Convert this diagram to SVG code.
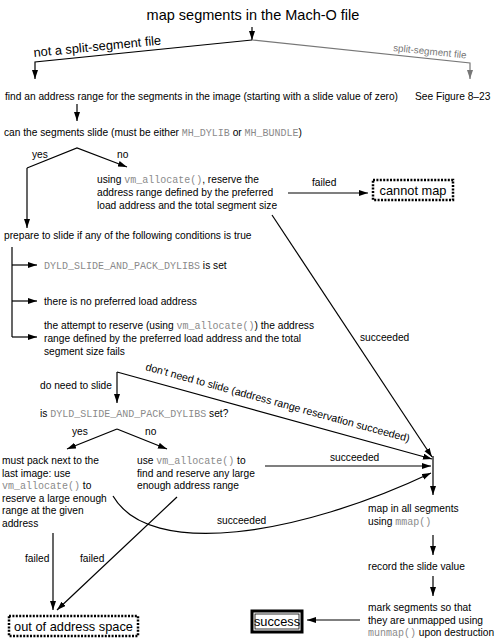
<svg xmlns="http://www.w3.org/2000/svg" width="500" height="643" viewBox="0 0 500 643">
<style>
text{font-family:"Liberation Sans",Arial,sans-serif;font-size:10.2px;fill:#000}
.code{font-family:"Liberation Mono","Courier New",monospace;fill:#8a8a8a;font-size:10px}
.title{font-size:14.5px}
.big{font-size:12.8px}
.gray{fill:#777}
.ln{fill:none;stroke:#000;stroke-width:1.2}
.gln{fill:none;stroke:#777;stroke-width:1.2}
.dot{fill:#fff;stroke:#000;stroke-width:2.5;stroke-dasharray:2 1.4}
</style>
<defs>
<marker id="a" markerUnits="userSpaceOnUse" markerWidth="10" markerHeight="7" refX="9" refY="3" orient="auto"><path d="M0,0 L9,3 L0,6 z" fill="#000"/></marker>
<marker id="g" markerUnits="userSpaceOnUse" markerWidth="10" markerHeight="7" refX="9" refY="3" orient="auto"><path d="M0,0 L9,3 L0,6 z" fill="#777"/></marker>
</defs>
<rect width="500" height="643" fill="#fff"/>
<g id="connectors">
<path class="ln" d="M252,27 V40" marker-end="url(#a)"/>
<path class="ln" d="M252,40 L35,62 V79" marker-end="url(#a)"/>
<path class="gln" d="M252,40 L470,63 V79" marker-end="url(#g)"/>
<path class="ln" d="M77,104 V121" marker-end="url(#a)"/>
<path class="ln" d="M27,168 L77,148 L127,167" marker-end="url(#a)"/>
<path class="ln" d="M27,168 V228" marker-end="url(#a)"/>
<path class="ln" d="M288,193 H368" marker-end="url(#a)"/>
<path class="ln" d="M272,215 L432,457" marker-end="url(#a)"/>
<path class="ln" d="M12,247 V337"/>
<path class="ln" d="M12,265 H37" marker-end="url(#a)"/>
<path class="ln" d="M12,301 H37" marker-end="url(#a)"/>
<path class="ln" d="M12,337 H37" marker-end="url(#a)"/>
<path class="ln" d="M117,372 V403" marker-end="url(#a)"/>
<path class="ln" d="M117,372 L432,459" marker-end="url(#a)"/>
<path class="ln" d="M117,429 L67,449" marker-end="url(#a)"/>
<path class="ln" d="M117,429 L167,449" marker-end="url(#a)"/>
<path class="ln" d="M265,466 H431" marker-end="url(#a)"/>
<path class="ln" d="M113,496 C150,560 300,535 431,473" marker-end="url(#a)"/>
<path class="ln" d="M433,456 V495" marker-end="url(#a)"/>
<path class="ln" d="M53,533 V610" marker-end="url(#a)"/>
<path class="ln" d="M177,497 L57,610" marker-end="url(#a)"/>
<path class="ln" d="M433,535 V555" marker-end="url(#a)"/>
<path class="ln" d="M433,576 V596" marker-end="url(#a)"/>
<path class="ln" d="M360,620 H307" marker-end="url(#a)"/>
</g>
<g id="labels">
<text class="big" transform="rotate(-5.6 34 57)" x="34" y="57">not a split-segment file</text>
<text class="gray" transform="rotate(5.8 393 51)" x="393" y="51" style="font-size:9.8px">split-segment file</text>
<text x="32" y="158">yes</text>
<text x="117" y="158">no</text>
<text x="312" y="186">failed</text>
<text x="360" y="341">succeeded</text>
<text x="40" y="389">do need to slide</text>
<text transform="rotate(15.3 145 370)" x="145" y="370" style="font-size:10.6px">don’t need to slide (address range reservation succeeded)</text>
<text x="72" y="435">yes</text>
<text x="145" y="435">no</text>
<text x="330" y="461">succeeded</text>
<text x="217" y="524">succeeded</text>
<text x="25" y="562">failed</text>
<text x="80" y="562">failed</text>
</g>
<g id="n-title"><text class="title" x="253" y="20" text-anchor="middle">map segments in the Mach-O file</text></g>
<g id="n-find"><text x="5" y="100">find an address range for the segments in the image (starting with a slide value of zero)</text></g>
<g id="n-see"><text x="415" y="100">See Figure 8–23</text></g>
<g id="n-canslide"><text x="4" y="136">can the segments slide (must be either <tspan class="code">MH_DYLIB</tspan> or <tspan class="code">MH_BUNDLE</tspan>)</text></g>
<g id="n-reserve">
<text x="97" y="183">using <tspan class="code">vm_allocate()</tspan>, reserve the</text>
<text x="97" y="196">address range defined by the preferred</text>
<text x="97" y="209">load address and the total segment size</text>
</g>
<g id="n-cannot"><rect class="dot" x="373" y="180" width="80" height="20"/><text class="big" x="413" y="195" text-anchor="middle">cannot map</text></g>
<g id="n-prepare"><text x="4" y="239">prepare to slide if any of the following conditions is true</text></g>
<g id="n-c1"><text x="44" y="269"><tspan class="code">DYLD_SLIDE_AND_PACK_DYLIBS</tspan> is set</text></g>
<g id="n-c2"><text x="44" y="305">there is no preferred load address</text></g>
<g id="n-c3">
<text x="44" y="329">the attempt to reserve (using <tspan class="code">vm_allocate()</tspan>) the address</text>
<text x="44" y="342">range defined by the preferred load address and the total</text>
<text x="44" y="355">segment size fails</text>
</g>
<g id="n-isdyld"><text x="40" y="417">is <tspan class="code">DYLD_SLIDE_AND_PACK_DYLIBS</tspan> set?</text></g>
<g id="n-pack">
<text x="2" y="464">must pack next to the</text>
<text x="2" y="476.6">last image: use</text>
<text x="2" y="489.2"><tspan class="code">vm_allocate()</tspan> to</text>
<text x="2" y="501.8">reserve a large enough</text>
<text x="2" y="514.4">range at the given</text>
<text x="2" y="527">address</text>
</g>
<g id="n-any">
<text x="137" y="464">use <tspan class="code">vm_allocate()</tspan> to</text>
<text x="137" y="476.6">find and reserve any large</text>
<text x="137" y="489.2">enough address range</text>
</g>
<g id="n-mapin">
<text x="368" y="512">map in all segments</text>
<text x="368" y="525">using <tspan class="code">mmap()</tspan></text>
</g>
<g id="n-record"><text x="368" y="570">record the slide value</text></g>
<g id="n-mark">
<text x="368" y="611">mark segments so that</text>
<text x="368" y="623.5">they are unmapped using</text>
<text x="368" y="636"><tspan class="code">munmap()</tspan> upon destruction</text>
</g>
<g id="n-success"><rect x="252" y="611" width="50" height="21" fill="#fff" stroke="#000" stroke-width="3"/><rect x="255" y="614" width="44" height="15" fill="none" stroke="#000" stroke-width="0.8"/><text class="big" x="277" y="626" text-anchor="middle">success</text></g>
<g id="n-outspace"><rect class="dot" x="9" y="616" width="129" height="20"/><text class="big" x="73.5" y="631" text-anchor="middle">out of address space</text></g>
</svg>
